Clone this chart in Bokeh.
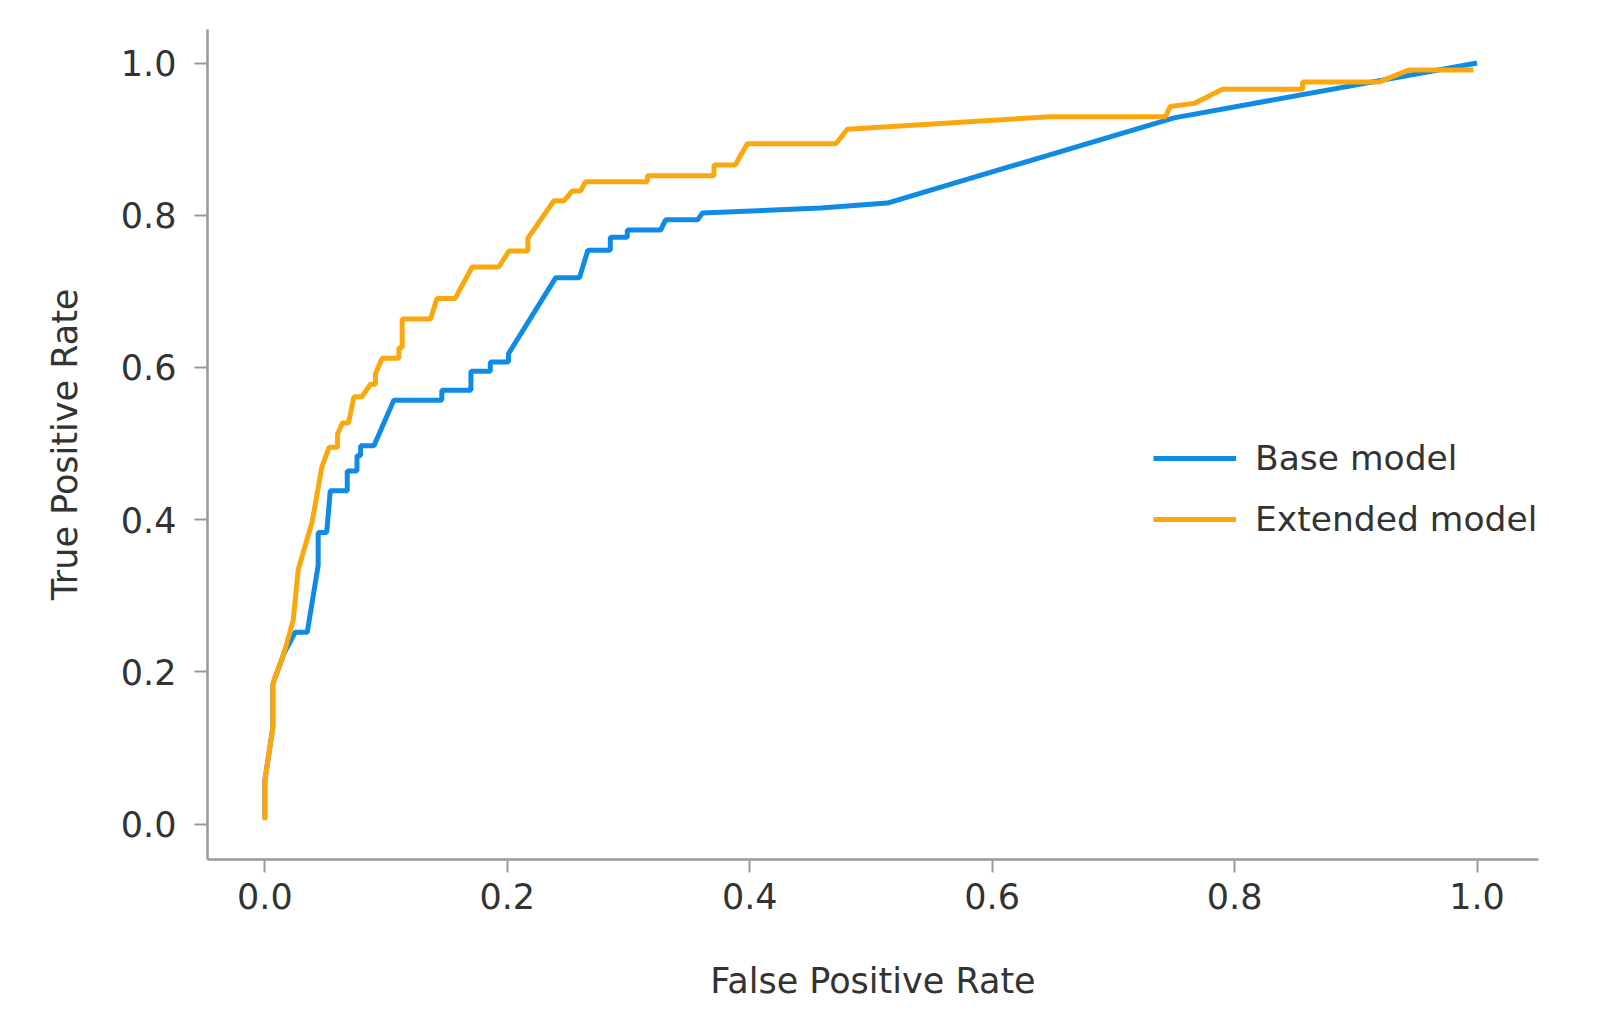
from bokeh.plotting import figure
from bokeh.models import Range1d, FixedTicker, Legend, LegendItem, CustomJSTickFormatter
from bokeh.embed import file_html
from bokeh.resources import INLINE

# ---- data ----
base_fpr = [0.0, 0.0, 0.0066, 0.0066, 0.0157, 0.025, 0.035, 0.044, 0.044, 0.051, 0.054, 0.068,
            0.068, 0.076, 0.076, 0.079, 0.079, 0.090, 0.1064, 0.146, 0.146, 0.170, 0.170, 0.186,
            0.186, 0.201, 0.201, 0.240, 0.2595, 0.2665, 0.285, 0.285, 0.299, 0.299, 0.3265,
            0.3306, 0.357, 0.361, 0.4585, 0.5135, 0.750, 1.0]
base_tpr = [0.008, 0.057, 0.127, 0.184, 0.224, 0.252, 0.252, 0.340, 0.383, 0.383, 0.438, 0.438,
            0.464, 0.464, 0.484, 0.484, 0.497, 0.497, 0.557, 0.557, 0.570, 0.570, 0.595, 0.595,
            0.607, 0.607, 0.618, 0.718, 0.718, 0.754, 0.754, 0.771, 0.771, 0.7805, 0.7805,
            0.794, 0.794, 0.803, 0.8094, 0.816, 0.928, 1.0]

ext_fpr = [0.0, 0.0, 0.0066, 0.0066, 0.0157, 0.0234, 0.0275, 0.039, 0.047, 0.053, 0.060, 0.060,
           0.064, 0.069, 0.0735, 0.080, 0.0872, 0.0913, 0.0913, 0.0968, 0.1106, 0.1106, 0.1133,
           0.1133, 0.1367, 0.142, 0.157, 0.171, 0.193, 0.2013, 0.217, 0.217, 0.2385, 0.2467,
           0.2536, 0.2605, 0.2646, 0.3155, 0.3155, 0.3705, 0.3705, 0.388, 0.398, 0.471, 0.4805,
           0.648, 0.743, 0.747, 0.7665, 0.790, 0.856, 0.856, 0.919, 0.944, 0.997]
ext_tpr = [0.005, 0.057, 0.127, 0.185, 0.224, 0.268, 0.334, 0.397, 0.469, 0.495, 0.495, 0.5126,
           0.527, 0.527, 0.5615, 0.5615, 0.578, 0.578, 0.592, 0.612, 0.612, 0.626, 0.626,
           0.6636, 0.6636, 0.6907, 0.6907, 0.732, 0.732, 0.753, 0.753, 0.770, 0.819, 0.819,
           0.832, 0.832, 0.844, 0.844, 0.852, 0.852, 0.866, 0.866, 0.894, 0.894, 0.913,
           0.9295, 0.9295, 0.943, 0.947, 0.9657, 0.9657, 0.975, 0.975, 0.991, 0.991]

series_names = ["Base model", "Extended model"]
tick_values = [0.0, 0.2, 0.4, 0.6, 0.8, 1.0]

BLUE = "#0F8BE6"
ORANGE = "#FBA80F"
AXIS = "#9a9a9a"
TEXT = "#333333"
FONT = "DejaVu Sans"

p = figure(width=1600, height=1025, output_backend="svg", toolbar_location=None,
           x_range=Range1d(-0.0473, 1.0507), y_range=Range1d(-0.0466, 1.0441),
           min_border_left=207, min_border_right=62, min_border_top=29, min_border_bottom=166)
p.frame_width = 1331
p.frame_height = 830
p.outline_line_color = None
p.xgrid.visible = False
p.ygrid.visible = False
p.background_fill_color = "white"
p.border_fill_color = "white"

r_base = p.line(base_fpr, base_tpr, line_color=BLUE, line_width=5)
r_ext = p.line(ext_fpr, ext_tpr, line_color=ORANGE, line_width=5)

fmt = CustomJSTickFormatter(code="return tick.toFixed(1);")
for ax in (p.xaxis[0], p.yaxis[0]):
    ax.ticker = FixedTicker(ticks=tick_values)
    ax.formatter = fmt
    ax.axis_line_color = AXIS
    ax.axis_line_width = 2.5
    ax.major_tick_line_color = AXIS
    ax.major_tick_line_width = 2
    ax.major_tick_out = 13
    ax.major_tick_in = 0
    ax.minor_tick_line_color = None
    ax.major_label_text_font = FONT
    ax.major_label_text_font_size = "35px"
    ax.major_label_text_color = TEXT
    ax.axis_label_text_font = FONT
    ax.axis_label_text_font_size = "35px"
    ax.axis_label_text_font_style = "normal"
    ax.axis_label_text_color = TEXT

p.xaxis.axis_label = "False Positive Rate"
p.yaxis.axis_label = "True Positive Rate"
p.xaxis.major_label_standoff = 10
p.yaxis.major_label_standoff = 18
p.xaxis.axis_label_standoff = 49
p.yaxis.axis_label_standoff = 33

legend = Legend(items=[LegendItem(label=series_names[0], renderers=[r_base]),
                       LegendItem(label=series_names[1], renderers=[r_ext])],
                location=(946, 320))
legend.border_line_color = None
legend.background_fill_alpha = 0
legend.padding = 0
legend.margin = 0
legend.spacing = 21
legend.glyph_width = 83
legend.glyph_height = 40
legend.label_height = 40
legend.label_standoff = 19
legend.label_text_font = FONT
legend.label_text_font_size = "34.5px"
legend.label_text_color = TEXT
p.add_layout(legend, "center")

open("out.html", "w").write(file_html(p, INLINE))
